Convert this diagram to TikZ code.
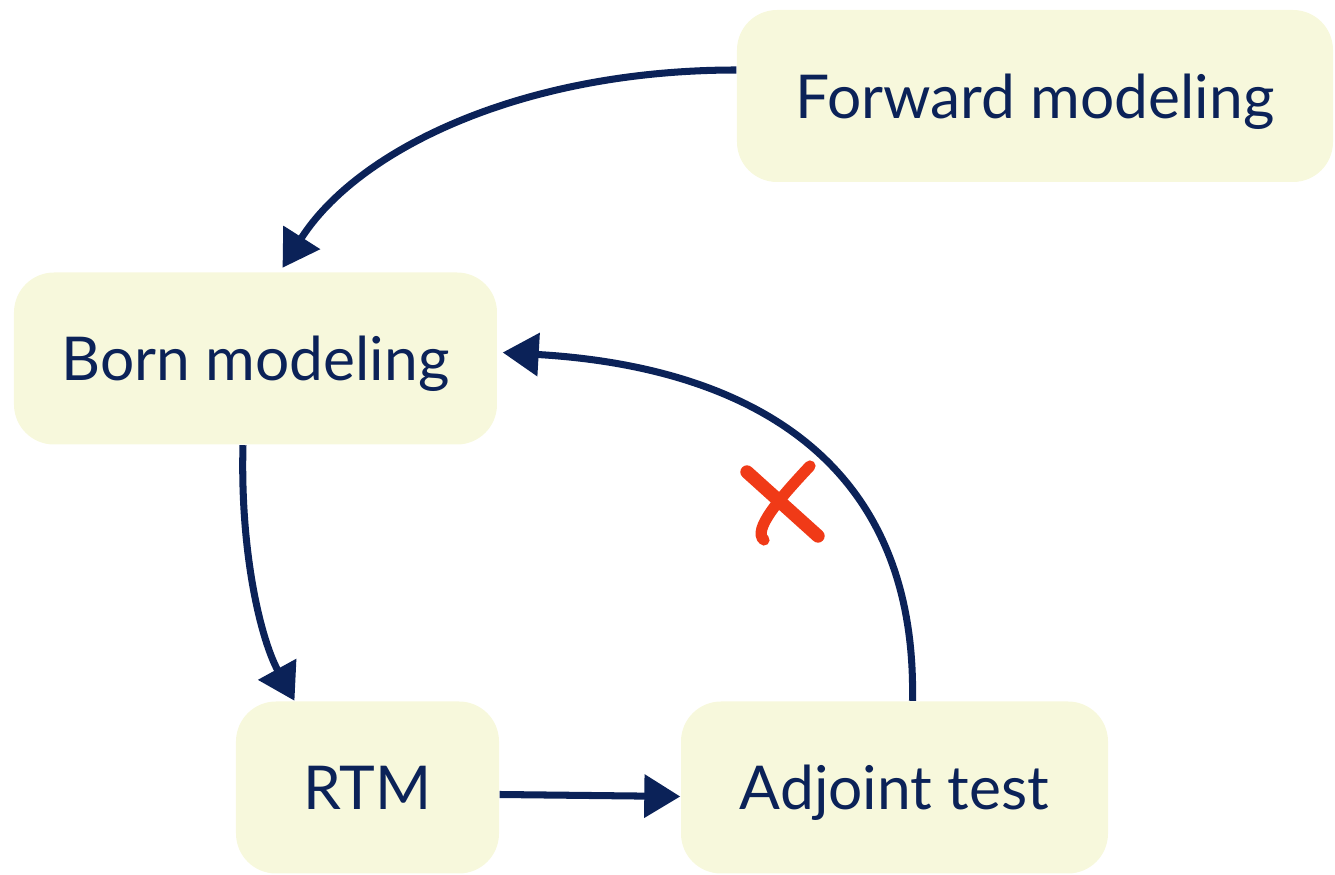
\documentclass[tikz,border=0pt]{standalone}
\usepackage{fontspec}
\setmainfont{Lato}
\usetikzlibrary{arrows.meta,positioning}

\definecolor{navy}{HTML}{0B2258}
\definecolor{paleyellow}{HTML}{F7F8DC}
\definecolor{markred}{HTML}{F03A17}

\tikzset{
  stage/.style={fill=paleyellow, rounded corners=0.4cm, inner sep=0pt,
    minimum width=#1, minimum height=1.72cm, text depth=0pt, text=navy,
    font=\fontsize{17.2}{21}\selectfont},
  flow/.style={draw=navy, line width=2pt, -{Triangle[length=0.36cm,width=0.42cm]}},
  cross/.style={draw=markred, line width=3.8pt, line cap=round},
}

\begin{document}
\begin{tikzpicture}
\useasboundingbox (0,0) rectangle (13.35,-8.75);

\node[stage=5.96cm] (fwd) at (10.35,-0.96) {Forward modeling};
\node[stage=4.83cm] (born) at (2.555,-3.585) {Born modeling};
\node[stage=2.63cm] (rtm) at (3.675,-7.875) {RTM};
\node[stage=4.27cm] (adj) at (8.945,-7.875) {Adjoint test};

\draw[flow] ([yshift=0.26cm]fwd.west) .. controls +(-2.15,0) and +(0.75,1.18) .. ([xshift=0.27cm,yshift=0.04cm]born.north);
\draw[flow] ([xshift=-0.125cm]born.south) .. controls +(-0.03,-1.1) and +(-0.33,0.6) .. ([xshift=-0.73cm]rtm.north);
\draw[flow] ([yshift=-0.07cm]rtm.east) -- ([yshift=-0.09cm]adj.west);
\draw[flow] ([xshift=0.18cm]adj.north) .. controls +(0.05,2.6) and +(2.18,-0.125) .. ([xshift=0.05cm,yshift=0.06cm]born.east);

% hand drawn cross on the return path
\draw[cross] (7.47,-4.72) -- (8.18,-5.36);
\draw[cross, line width=3.2pt] (8.10,-4.66) .. controls (7.80,-4.98) and (7.52,-5.30) .. (7.64,-5.40);
\end{tikzpicture}
\end{document}
